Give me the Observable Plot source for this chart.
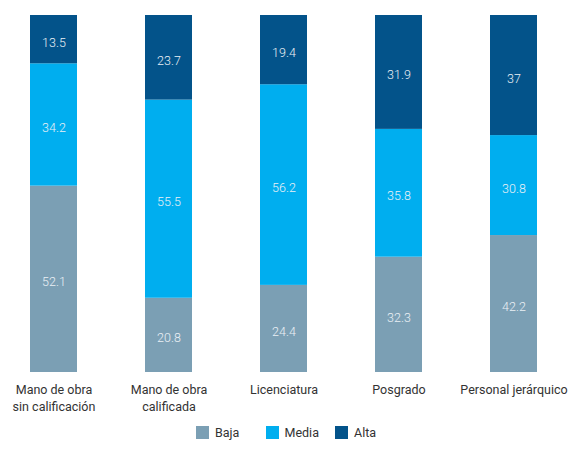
<!DOCTYPE html>
<html>
<head>
<meta charset="utf-8">
<script src="https://cdn.jsdelivr.net/npm/d3@7"></script>
<script src="https://cdn.jsdelivr.net/npm/@observablehq/plot@0.6"></script>
<style>
  body { margin: 0; background: #fff; font-family: Roboto, "DejaVu Sans", sans-serif; }
  #chart { width: 573px; }
  .legend { display: flex; justify-content: flex-start; margin-top: 5px; font-size: 12.5px; color: #333; padding-left: 196px; }
  .legend .item { display: flex; align-items: center; width: 69.5px; }
  .legend .sw { width: 13px; height: 13px; margin-right: 6px; display: inline-block; }
</style>
</head>
<body>
<div id="chart"></div>
<script>
const categories = ["Mano de obra\nsin calificación", "Mano de obra\ncalificada", "Licenciatura", "Posgrado", "Personal jerárquico"];
const series = ["Baja", "Media", "Alta"];
const baja  = [52.1, 20.8, 24.4, 32.3, 42.2];
const media = [34.2, 55.5, 56.2, 35.8, 30.8];
const alta  = [13.5, 23.7, 19.4, 31.9, 37];
const colors = ["#7b9fb4", "#00aeef", "#03538a"];

const values = {Baja: baja, Media: media, Alta: alta};
const data = [];
for (const s of series) {
  categories.forEach((c, i) => data.push({category: c, series: s, value: values[s][i]}));
}

const stackOpts = {x: "category", y: "value", z: "series", offset: "normalize", order: series};

const plot = Plot.plot({
  width: 573,
  height: 420,
  marginTop: 15,
  marginBottom: 48,
  marginLeft: 0,
  marginRight: 0,
  style: {fontFamily: "Roboto, 'DejaVu Sans', sans-serif", fontSize: "12.5px", color: "#333"},
  x: {domain: categories, range: [-4, 572], paddingInner: 0.59, paddingOuter: 0.295, label: null},
  y: {axis: null, domain: [0, 1]},
  color: {domain: series, range: colors},
  marks: [
    Plot.barY(data, Plot.stackY({...stackOpts, fill: "series"})),
    Plot.text(data, Plot.stackY({...stackOpts, text: d => String(d.value), fill: "#eaf0f5", fontSize: 12.5, fontWeight: 300, dy: 3})),
    Plot.axisX({tickSize: 0, tickPadding: 9, lineHeight: 1.4, fill: "#333", fontSize: 12.5})
  ]
});
document.getElementById("chart").appendChild(plot);

const legend = document.createElement("div");
legend.className = "legend";
series.forEach((s, i) => {
  const item = document.createElement("div");
  item.className = "item";
  const sw = document.createElement("span");
  sw.className = "sw";
  sw.style.background = colors[i];
  item.appendChild(sw);
  item.appendChild(document.createTextNode(s));
  legend.appendChild(item);
});
document.getElementById("chart").appendChild(legend);
</script>
</body>
</html>
